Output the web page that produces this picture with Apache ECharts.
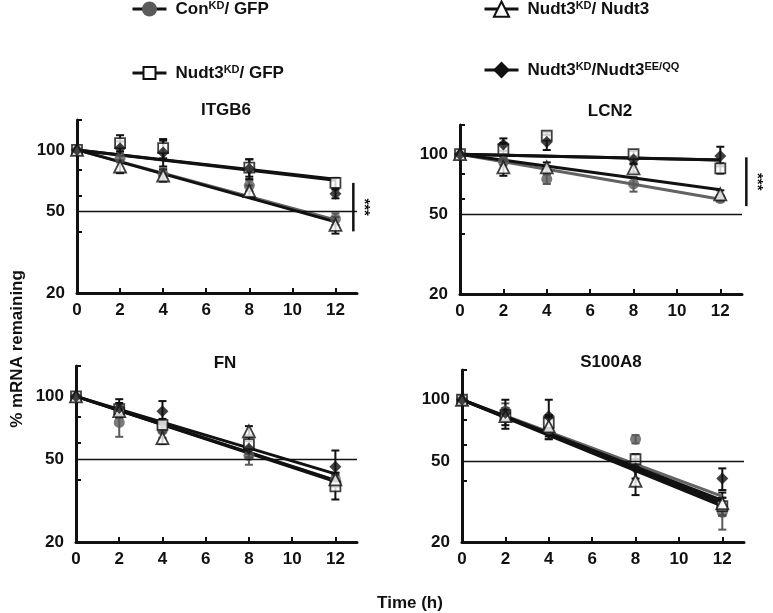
<!DOCTYPE html>
<html><head><meta charset="utf-8">
<script src="https://cdn.jsdelivr.net/npm/echarts@6/dist/echarts.min.js"></script>
<style>html,body{margin:0;padding:0;background:#fff}#c{width:773px;height:613px}</style>
</head><body><div id="c"></div>
<script>
// ---------- data ----------
const times = [0, 2, 4, 8, 12];
const fitTimes = [0, 12];
const panelTitles = ['ITGB6', 'LCN2', 'FN', 'S100A8'];
const seriesNames = ['ConKD/ GFP', 'Nudt3KD/ GFP', 'Nudt3KD/ Nudt3', 'Nudt3KD/Nudt3EE/QQ'];
const legendLabels = ['Con{s|KD}/ GFP', 'Nudt3{s|KD}/ GFP', 'Nudt3{s|KD}/ Nudt3', 'Nudt3{s|KD}/Nudt3{s|EE/QQ}'];
const yTickValues = [40, 60, 80, 100, 140];
const yLabelValues = [20, 50, 100];
const xTickValues = [2, 4, 6, 8, 10, 12];
const xLabelValues = [0, 2, 4, 6, 8, 10, 12];
const halfLife = 50;

// ITGB6
const itgb6Con = [100, 91, 76, 67, 46];
const itgb6ConErr = [0, 4, 5, 4, 3];
const itgb6Gfp = [100, 108, 102, 82, 69];
const itgb6GfpErr = [0, 10, 11, 8, 4];
const itgb6Nudt3 = [100, 83, 75, 63, 43];
const itgb6Nudt3Err = [0, 6, 5, 4, 4];
const itgb6Eeqq = [100, 102, 97, 81, 61];
const itgb6EeqqErr = [0, 8, 14, 9, 3];
const itgb6FitEnd = [45.5, 72, 44.5, 71];

// LCN2
const lcn2Con = [100, 92, 75, 71, 60];
const lcn2ConErr = [0, 4, 4, 6, 2];
const lcn2Gfp = [100, 106, 124, 100, 85];
const lcn2GfpErr = [0, 8, 5, 4, 5];
const lcn2Nudt3 = [100, 86, 86, 85, 63];
const lcn2Nudt3Err = [0, 8, 5, 4, 3];
const lcn2Eeqq = [100, 112, 115, 94, 98];
const lcn2EeqqErr = [0, 8, 10, 4, 11];
const lcn2FitEnd = [59.5, 93.5, 66.5, 93.5];

// FN
const fnCon = [100, 75, 69, 52, 40];
const fnConErr = [0, 11, 6, 5, 3];
const fnGfp = [100, 87, 73, 59, 37];
const fnGfpErr = [0, 6, 5, 6, 5];
const fnNudt3 = [100, 85, 63, 68, 40];
const fnNudt3Err = [0, 5, 4, 4, 3];
const fnEeqq = [100, 88, 85, 56, 46];
const fnEeqqErr = [0, 9, 10, 5, 9];
const fnFitEnd = [39.5, 39, 39.5, 42.5];

// S100A8
const s100Con = [100, 88, 72, 64, 28];
const s100ConErr = [0, 8, 8, 3, 5];
const s100Gfp = [100, 84, 77, 51, 30];
const s100GfpErr = [0, 6, 6, 3, 3];
const s100Nudt3 = [100, 83, 74, 40, 31];
const s100Nudt3Err = [0, 8, 10, 6, 4];
const s100Eeqq = [100, 86, 83, 46, 41];
const s100EeqqErr = [0, 14, 17, 5, 5];
const s100FitEnd = [33.5, 31, 30, 32];

// significance brackets: [panel, time, upper value, lower value]
const sigPanels = [0, 1];
const sigTimes = [12.83, 13.2];
const sigUpper = [69, 96.5];
const sigLower = [40, 55];

// ---------- assembly ----------
const panelValues = [
  [itgb6Con, itgb6Gfp, itgb6Nudt3, itgb6Eeqq],
  [lcn2Con, lcn2Gfp, lcn2Nudt3, lcn2Eeqq],
  [fnCon, fnGfp, fnNudt3, fnEeqq],
  [s100Con, s100Gfp, s100Nudt3, s100Eeqq]
];
const panelErrs = [
  [itgb6ConErr, itgb6GfpErr, itgb6Nudt3Err, itgb6EeqqErr],
  [lcn2ConErr, lcn2GfpErr, lcn2Nudt3Err, lcn2EeqqErr],
  [fnConErr, fnGfpErr, fnNudt3Err, fnEeqqErr],
  [s100ConErr, s100GfpErr, s100Nudt3Err, s100EeqqErr]
];
const panelFits = [itgb6FitEnd, lcn2FitEnd, fnFitEnd, s100FitEnd];

const FONT = "'Liberation Sans', Arial, sans-serif";
const INK = '#111';
const grids = [
  {left: 77, top: 120, width: 280, height: 173},
  {left: 460, top: 125, width: 282, height: 169},
  {left: 76, top: 366, width: 281, height: 176},
  {left: 462, top: 370, width: 282, height: 172}
];
const titlePos = [[226, 102], [610, 103], [225, 355], [611, 354]];

const symbols = ['circle', 'rect', 'triangle', 'diamond'];
const symSizes = [11, 10, 12, 12];
const markerStyles = [
  {color: '#5a5a5a', borderColor: '#5a5a5a', borderWidth: 0},
  {color: '#fff', borderColor: INK, borderWidth: 1.8},
  {color: '#fff', borderColor: INK, borderWidth: 1.8},
  {color: INK, borderColor: INK, borderWidth: 0}
];
const lineColors = ['#636363', INK, INK, INK];
const errColors = ['#5a5a5a', INK, INK, INK];

const xAxes = [], yAxes = [], series = [];
grids.forEach((g, p) => {
  xAxes.push({
    type: 'value', gridIndex: p, min: 0, max: 13,
    axisLine: {show: true, onZero: false, lineStyle: {color: INK, width: 3}},
    axisTick: {show: true, inside: true, length: 5, lineStyle: {color: INK, width: 2}, customValues: xTickValues},
    axisLabel: {customValues: xLabelValues, fontSize: 17, fontWeight: 'bold', color: INK, fontFamily: FONT, margin: 9},
    splitLine: {show: false}
  });
  yAxes.push({
    type: 'log', logBase: 10, gridIndex: p, min: 20, max: 140,
    axisLine: {show: true, onZero: false, lineStyle: {color: INK, width: 3}},
    axisTick: {show: true, inside: true, length: 5, lineStyle: {color: INK, width: 2}, customValues: yTickValues},
    axisLabel: {customValues: yLabelValues, fontSize: 17, fontWeight: 'bold', color: INK, fontFamily: FONT, margin: 12},
    splitLine: {show: false}, minorTick: {show: false}
  });
  for (let s = 0; s < 4; s++) {
    const ln = {
      type: 'line', name: seriesNames[s], xAxisIndex: p, yAxisIndex: p,
      data: fitTimes.map((t, i) => [t, i === 0 ? panelValues[p][s][0] : panelFits[p][s]]),
      showSymbol: false, symbol: symbols[s], symbolSize: symSizes[s],
      lineStyle: {color: lineColors[s], width: 3},
      itemStyle: markerStyles[s], z: 2, silent: true
    };
    if (s === 0) {
      ln.markLine = {
        silent: true, symbol: ['none', 'none'], label: {show: false},
        lineStyle: {color: INK, width: 1.3, type: 'solid'},
        emphasis: {disabled: true},
        data: [{yAxis: halfLife}]
      };
    }
    series.push(ln);
  }
  for (let s = 0; s < 4; s++) {
    const col = errColors[s];
    series.push({
      type: 'custom', name: seriesNames[s], xAxisIndex: p, yAxisIndex: p, z: 1, silent: true,
      encode: {x: 0, y: 1},
      data: times.map((t, i) => [t, panelValues[p][s][i], panelErrs[p][s][i]]),
      renderItem: (params, api) => {
        const x = api.value(0), y = api.value(1), e = api.value(2);
        if (!e) return null;
        const a = api.coord([x, y + e]), b = api.coord([x, y - e]);
        const w = 4, st = {stroke: col, lineWidth: 2};
        return {type: 'group', children: [
          {type: 'line', shape: {x1: a[0], y1: a[1], x2: b[0], y2: b[1]}, style: st},
          {type: 'line', shape: {x1: a[0] - w, y1: a[1], x2: a[0] + w, y2: a[1]}, style: st},
          {type: 'line', shape: {x1: b[0] - w, y1: b[1], x2: b[0] + w, y2: b[1]}, style: st}
        ]};
      }
    });
  }
  for (let s = 0; s < 4; s++) {
    series.push({
      type: 'scatter', name: seriesNames[s], xAxisIndex: p, yAxisIndex: p, z: 3 + s * 0.1, silent: true,
      symbol: symbols[s], symbolSize: symSizes[s], itemStyle: markerStyles[s],
      data: times.map((t, i) => [t, panelValues[p][s][i]])
    });
  }
});

const legendLefts = [131, 131, 483, 483];
const legendCenters = [10, 72, 10, 72];
const legendIconH = [19, 15, 19, 21];
const legends = seriesNames.map((n, s) => ({
  data: [n], left: legendLefts[s], top: legendCenters[s] - legendIconH[s] / 2, padding: 0,
  itemWidth: 34, itemHeight: legendIconH[s], selectedMode: false,
  itemStyle: {color: markerStyles[s].color, borderColor: markerStyles[s].borderColor, borderWidth: s === 1 || s === 2 ? 2 : 0},
  lineStyle: {color: INK, width: 3},
  formatter: () => legendLabels[s],
  textStyle: {fontSize: 17, fontWeight: 'bold', color: INK, fontFamily: FONT, padding: [0, 0, 0, 4],
    rich: {s: {fontSize: 11, fontWeight: 'bold', color: INK, fontFamily: FONT, verticalAlign: 'top', lineHeight: 12}}}
}));

const titles = panelTitles.map((t, p) => ({
  text: t, left: titlePos[p][0], top: titlePos[p][1], textAlign: 'center', padding: 0,
  textStyle: {fontSize: 17, fontWeight: 'bold', color: INK, fontFamily: FONT}
}));

const chart = echarts.init(document.getElementById('c'), null, {renderer: 'canvas'});
const option = {
  animation: false,
  backgroundColor: '#fff',
  title: titles,
  legend: legends,
  grid: grids,
  xAxis: xAxes,
  yAxis: yAxes,
  series: series
};
chart.setOption(option);

const graphics = [
  {type: 'text', id: 'yname', x: 17, y: 349, rotation: Math.PI / 2,
    style: {text: '% mRNA remaining', fontSize: 17, fontWeight: 'bold', fill: INK, fontFamily: FONT, align: 'center', verticalAlign: 'middle'}},
  {type: 'text', id: 'xname', x: 410, y: 603,
    style: {text: 'Time (h)', fontSize: 17, fontWeight: 'bold', fill: INK, fontFamily: FONT, align: 'center', verticalAlign: 'middle'}}
];
sigPanels.forEach((p, k) => {
  const a = chart.convertToPixel({gridIndex: p}, [sigTimes[k], sigUpper[k]]);
  const b = chart.convertToPixel({gridIndex: p}, [sigTimes[k], sigLower[k]]);
  graphics.push({type: 'line', id: 'sigl' + k, shape: {x1: a[0], y1: a[1], x2: b[0], y2: b[1]}, style: {stroke: INK, lineWidth: 2.5}});
  graphics.push({type: 'text', id: 'sigt' + k, x: a[0] + 11, y: (a[1] + b[1]) / 2, rotation: -Math.PI / 2,
    style: {text: '***', fontSize: 15, fontWeight: 'bold', fill: INK, fontFamily: FONT, align: 'center', verticalAlign: 'middle'}});
});
chart.setOption({graphic: graphics});
</script>
</body></html>
